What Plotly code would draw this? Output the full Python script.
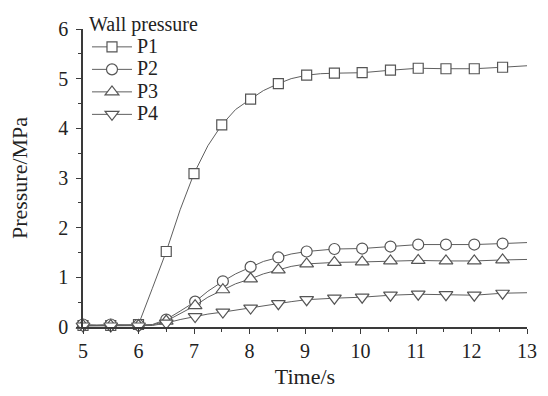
import plotly.graph_objects as go

# ---- data ----
t_p1 = [5.0, 5.25, 5.5, 5.75, 6.0, 6.1, 6.25, 6.5, 6.75, 7.0, 7.25, 7.5, 7.75, 8.02, 8.25, 8.52, 8.75,
        9.03, 9.28, 9.53, 10.03, 10.54, 11.04, 11.54, 12.05, 12.56, 13.0]
p1 = [0.03, 0.03, 0.03, 0.03, 0.05, 0.33, 0.78, 1.52, 2.36, 3.09, 3.65, 4.07, 4.38, 4.59, 4.76, 4.90, 5.00,
      5.07, 5.10, 5.11, 5.12, 5.17, 5.21, 5.20, 5.20, 5.23, 5.26]
p1_marks = [0, 2, 4, 7, 9, 11, 13, 15, 17, 19, 20, 21, 22, 23, 24, 25]

t_lo = [5.0, 5.25, 5.5, 5.75, 6.0, 6.25, 6.5, 6.75, 7.02, 7.25, 7.52, 7.75, 8.02, 8.25, 8.52, 8.75,
        9.03, 9.28, 9.53, 10.03, 10.54, 11.04, 11.54, 12.05, 12.56, 13.0]
p2 = [0.05, 0.04, 0.05, 0.04, 0.04, 0.05, 0.15, 0.32, 0.51, 0.72, 0.92, 1.07, 1.21, 1.32, 1.40, 1.47,
      1.52, 1.55, 1.57, 1.58, 1.62, 1.66, 1.66, 1.66, 1.68, 1.70]
p3 = [0.03, 0.03, 0.03, 0.03, 0.03, 0.04, 0.12, 0.27, 0.43, 0.60, 0.75, 0.87, 0.97, 1.07, 1.15, 1.22,
      1.27, 1.29, 1.30, 1.31, 1.33, 1.34, 1.33, 1.33, 1.35, 1.36]
p4 = [0.02, 0.02, 0.02, 0.02, 0.02, 0.03, 0.08, 0.15, 0.21, 0.26, 0.30, 0.34, 0.38, 0.43, 0.47, 0.51,
      0.55, 0.57, 0.58, 0.60, 0.64, 0.66, 0.65, 0.64, 0.68, 0.69]
lo_marks = [0, 2, 4, 6, 8, 10, 12, 14, 16, 18, 19, 20, 21, 22, 23, 24]

names = ["P1", "P2", "P3", "P4"]
symbols = ["square", "circle", "triangle-up", "triangle-down"]
msizes = [10, 11, 12, 12]
legend_title = "Wall pressure"
x_title = "Time/s"
y_title = "Pressure/MPa"

FONT = "Liberation Serif, Times New Roman, serif"
LINE_C = "#5f5f5f"
MK_C = "#555555"

fig = go.Figure()
series = [(t_p1, p1, p1_marks), (t_lo, p2, lo_marks), (t_lo, p3, lo_marks), (t_lo, p4, lo_marks)]
for (tx, ty, mk), nm, sym, ms in zip(series, names, symbols, msizes):
    fig.add_trace(go.Scatter(
        x=tx, y=ty, name='<span style="font-size:20px">' + nm + '</span>',
        mode="lines+markers",
        line=dict(color=LINE_C, width=1),
        marker=dict(symbol=sym, size=ms, color="white",
                    line=dict(width=1.2, color=MK_C)),
        selectedpoints=mk,
        selected=dict(marker=dict(opacity=1)),
        unselected=dict(marker=dict(opacity=0)),
        cliponaxis=False,
    ))

axis_common = dict(
    showline=True, linecolor="#3a3a3a", linewidth=1.5,
    ticks="outside", ticklen=5, tickwidth=1.3, tickcolor="#3a3a3a",
    showgrid=False, zeroline=False, mirror=False,
    tickfont=dict(family=FONT, size=20, color="#222"),
)

fig.update_layout(
    width=548, height=396,
    margin=dict(l=83, r=11, t=20, b=68),
    paper_bgcolor="white", plot_bgcolor="white",
    font=dict(family=FONT, color="#222"),
    xaxis=dict(range=[5, 13], dtick=1, tick0=5,
               minor=dict(dtick=0.5, ticks="outside", ticklen=3, tickcolor="#3a3a3a", tickwidth=1.2),
               title=dict(text=x_title, font=dict(family=FONT, size=22), standoff=8),
               **axis_common),
    yaxis=dict(range=[0, 6], dtick=1, tick0=0, ticklabelstandoff=4,
               minor=dict(dtick=0.5, ticks="outside", ticklen=3, tickcolor="#3a3a3a", tickwidth=1.2),
               title=dict(text=y_title, font=dict(family=FONT, size=22), standoff=25),
               **axis_common),
    legend=dict(
        x=0.009, y=1.06, xanchor="left", yanchor="top",
        bgcolor="rgba(0,0,0,0)", borderwidth=0,
        font=dict(family=FONT, size=15, color="#222"),
        itemwidth=40,
        title=dict(text='<span style="font-size:20px">' + legend_title + '</span>',
                   font=dict(family=FONT, size=15, color="#222"), side="top"),
        tracegroupgap=0,
    ),
    showlegend=True,
)

fig.write_html("out.html")
